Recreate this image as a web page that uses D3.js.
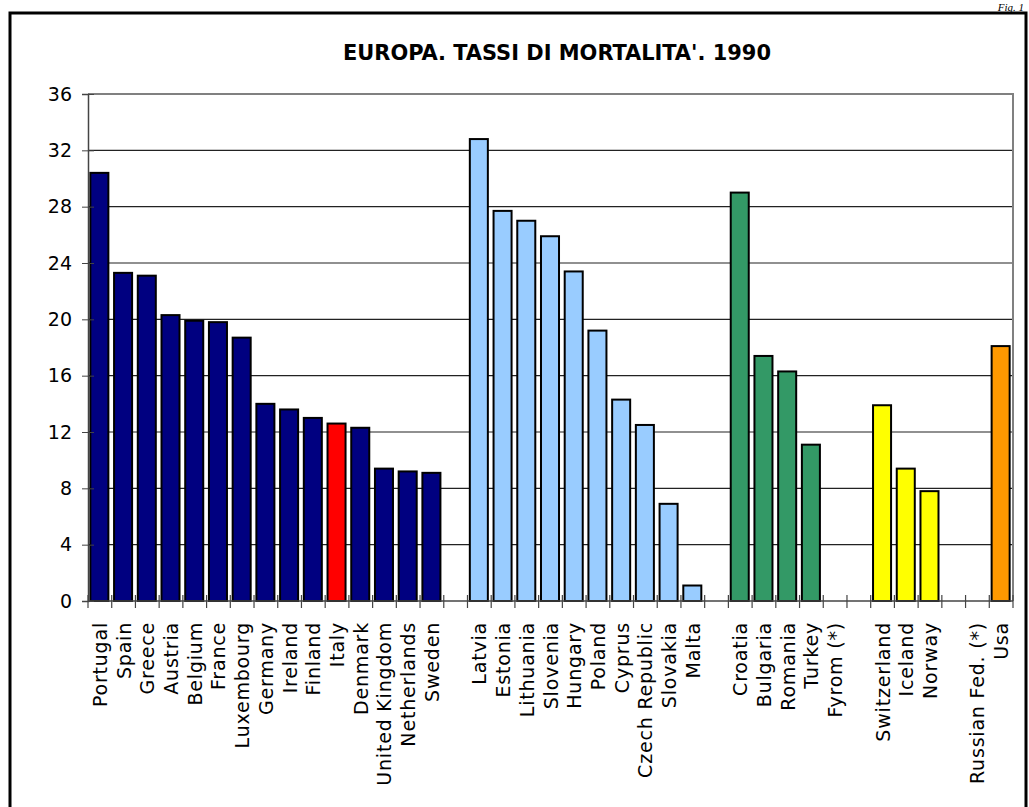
<!DOCTYPE html>
<html>
<head>
<meta charset="utf-8">
<script src="https://cdn.jsdelivr.net/npm/d3@7"></script>
<style>
  body { margin: 0; background: #fff; }
  svg { display: block; }
  .lbl { font-family: "DejaVu Sans", sans-serif; font-size: 19px; letter-spacing: 0.8px; fill: #000; }
</style>
</head>
<body>
<svg width="1029" height="807"></svg>
<script>
// Data: mortality rates 1990, by group of countries
const ue15 = ["Portugal", "Spain", "Greece", "Austria", "Belgium", "France", "Luxembourg", "Germany",
    "Ireland", "Finland", "Italy", "Denmark", "United Kingdom", "Netherlands", "Sweden"];
const ue15Values = [30.4, 23.3, 23.1, 20.3, 19.9, 19.8, 18.7, 14.0, 13.6, 13.0, 12.6, 12.3, 9.4, 9.2, 9.1];

const east = ["Latvia", "Estonia", "Lithuania", "Slovenia", "Hungary", "Poland", "Cyprus",
    "Czech Republic", "Slovakia", "Malta"];
const eastValues = [32.8, 27.7, 27.0, 25.9, 23.4, 19.2, 14.3, 12.5, 6.9, 1.1];

const balkans = ["Croatia", "Bulgaria", "Romania", "Turkey", "Fyrom (*)"];
const balkansValues = [29.0, 17.4, 16.3, 11.1, null];

const efta = ["Switzerland", "Iceland", "Norway"];
const eftaValues = [13.9, 9.4, 7.8];

const others = ["Russian Fed. (*)", "Usa"];
const othersValues = [null, 18.1];

const yTicks = [0, 4, 8, 12, 16, 20, 24, 28, 32, 36];

// colours per group, Italy highlighted
const groupColor = { ue15: "#000080", east: "#99CCFF", balkans: "#339966", efta: "#FFFF00", others: "#FF9900" };
const highlight = { name: "Italy", color: "#FF0000" };

// build the slot list, with one empty slot between groups
const slots = [];
[["ue15", ue15, ue15Values], ["east", east, eastValues], ["balkans", balkans, balkansValues],
 ["efta", efta, eftaValues], ["others", others, othersValues]].forEach(([g, names, vals], gi, arr) => {
    names.forEach((n, i) => slots.push({ id: "s" + slots.length, name: n, value: vals[i], group: g }));
    if (gi < arr.length - 1) slots.push({ id: "s" + slots.length, name: "", value: null, group: null });
});

const svg = d3.select("svg");

// outer frame
svg.append("rect").attr("x", 10).attr("y", 13).attr("width", 1016).attr("height", 810)
    .attr("fill", "none").attr("stroke", "#000").attr("stroke-width", 3);

svg.append("text").attr("x", 1024).attr("y", 11).attr("text-anchor", "end")
    .attr("font-family", "Liberation Serif, serif").attr("font-style", "italic").attr("font-size", 11)
    .text("Fig. 1");

svg.append("text").attr("x", 557).attr("y", 60).attr("text-anchor", "middle")
    .attr("font-family", "DejaVu Sans Condensed, DejaVu Sans, sans-serif").attr("font-weight", "bold")
    .attr("font-size", 21).attr("textLength", 428).attr("lengthAdjust", "spacingAndGlyphs")
    .text("EUROPA. TASSI DI MORTALITA'. 1990");

const plotL = 88, plotR = 1013, plotT = 94, plotB = 601;

const x = d3.scaleBand().domain(slots.map(d => d.id)).range([plotL, plotR]).padding(0);
const y = d3.scaleLinear().domain([0, 36]).range([plotB, plotT]);

// gridlines
svg.append("g").selectAll("line").data(yTicks.filter(t => t > 0 && t < 36)).enter().append("line")
    .attr("x1", plotL).attr("x2", plotR).attr("y1", d => y(d)).attr("y2", d => y(d))
    .attr("stroke", "#222").attr("stroke-width", 1.2);

// plot border (top + right)
svg.append("path")
    .attr("d", `M${plotL},${y(36)}H${plotR}V${plotB}`)
    .attr("fill", "none").attr("stroke", "#808080").attr("stroke-width", 2);

// bars
const bw = x.bandwidth() * 0.76;
svg.append("g").selectAll("rect").data(slots.filter(d => d.value != null)).enter().append("rect")
    .attr("x", d => x(d.id) + (x.bandwidth() - bw) / 2 - 0.5)
    .attr("y", d => y(d.value))
    .attr("width", bw)
    .attr("height", d => y(0) - y(d.value))
    .attr("fill", d => d.name === highlight.name ? highlight.color : groupColor[d.group])
    .attr("stroke", "#000").attr("stroke-width", 2);

// y axis
const yAxis = svg.append("g").attr("transform", `translate(${plotL},0)`)
    .call(d3.axisLeft(y).tickValues(yTicks).tickSize(6).tickPadding(10).tickFormat(d3.format("d")));
yAxis.select(".domain").attr("stroke", "#444").attr("stroke-width", 1.5);
yAxis.selectAll(".tick line").attr("x2", -6).attr("x1", 6).attr("stroke", "#444");
yAxis.selectAll(".tick text").attr("class", "lbl").attr("font-size", null).attr("font-family", null)
    .style("letter-spacing", "0px");

// x axis: ticks at the slot boundaries, crossing the axis
const bounds = slots.map(d => x(d.id)).concat([plotR]);
svg.append("line").attr("x1", plotL).attr("x2", plotR).attr("y1", plotB).attr("y2", plotB)
    .attr("stroke", "#444").attr("stroke-width", 1.5);
svg.append("g").selectAll("line").data(bounds).enter().append("line")
    .attr("x1", d => d).attr("x2", d => d).attr("y1", plotB - 6).attr("y2", plotB + 7)
    .attr("stroke", "#444").attr("stroke-width", 1.2);

// category labels, rotated
svg.append("g").selectAll("text").data(slots.filter(d => d.name)).enter().append("text")
    .attr("class", "lbl")
    .attr("transform", d => `translate(${x(d.id) + x.bandwidth() / 2 + 7},622) rotate(-90)`)
    .attr("text-anchor", "end")
    .text(d => d.name);
</script>
</body>
</html>
